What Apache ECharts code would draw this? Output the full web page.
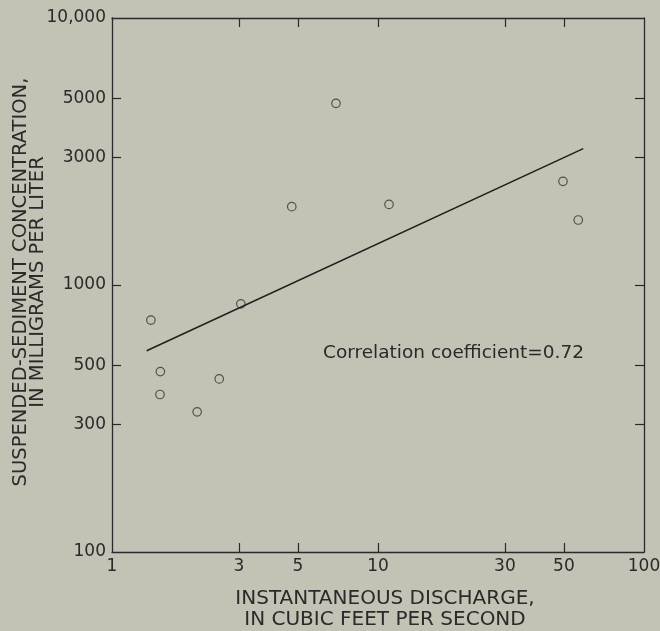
<!DOCTYPE html>
<html>
<head>
<meta charset="utf-8">
<script src="https://cdn.jsdelivr.net/npm/echarts@6/dist/echarts.min.js"></script>
<style>
html,body{margin:0;padding:0;background:#c4c1b5;}
#chart{width:660px;height:631px;}
</style>
</head>
<body>
<div id="chart"></div>
<script>
// Observations: instantaneous discharge (ft3/s) and suspended-sediment concentration (mg/L)
const discharge = [1.40, 1.52, 1.515, 2.09, 2.53, 3.05, 4.74, 6.95, 11.0, 49.6, 56.6];
const concentration = [739, 474, 389, 335, 445, 850, 1965, 4790, 2004, 2445, 1752];
// Regression line end points
const fitX = [1.35, 59.1];
const fitY = [567, 3243];
// Tick values
const xTicks = [1, 3, 5, 10, 30, 50, 100];
const yTicks = [100, 300, 500, 1000, 3000, 5000, 10000];
const xInnerTicks = [3, 5, 10, 30, 50];
const yInnerTicks = [300, 500, 1000, 3000, 5000];
const annotation = 'Correlation coefficient=0.72';

const ink = '#2a2a2a';
const fontFam = '"DejaVu Sans", "Liberation Sans", sans-serif';

function fmtY(v){ return v >= 10000 ? '10,000' : String(v); }

const baseX = {
  type: 'log', logBase: 10, min: 1, max: 100, gridIndex: 0,
  axisLine: {show: true, lineStyle: {color: ink, width: 1.3}},
  splitLine: {show: false}, minorTick: {show: false},
  axisTick: {show: true, inside: true, length: 9, lineStyle: {color: ink, width: 1.2}, customValues: xInnerTicks},
};
const baseY = {
  type: 'log', logBase: 10, min: 100, max: 10000, gridIndex: 0,
  axisLine: {show: true, lineStyle: {color: ink, width: 1.3}},
  splitLine: {show: false}, minorTick: {show: false},
  axisTick: {show: true, inside: true, length: 9, lineStyle: {color: ink, width: 1.2}, customValues: yInnerTicks},
};

const option = {
  backgroundColor: '#c4c1b5',
  animation: false,
  grid: {left: 112, right: 16, top: 18, bottom: 79, containLabel: false, outerBoundsMode: 'none'},
  xAxis: [
    Object.assign({}, baseX, {
      position: 'bottom',
      axisLabel: {show: true, customValues: xTicks, color: ink, fontSize: 17, fontFamily: fontFam, margin: 6},
      name: 'INSTANTANEOUS DISCHARGE,\nIN CUBIC FEET PER SECOND',
      nameLocation: 'middle', nameGap: 36, nameMoveOverlap: false,
      nameTextStyle: {color: ink, fontSize: 20, fontFamily: fontFam, lineHeight: 21, padding: [0,0,0,14]}
    }),
    Object.assign({}, baseX, {position: 'top', axisLabel: {show: false}})
  ],
  yAxis: [
    Object.assign({}, baseY, {
      position: 'left',
      axisLabel: {show: true, customValues: yTicks, formatter: fmtY, color: ink, fontSize: 17, fontFamily: fontFam, margin: 6},
      name: 'SUSPENDED-SEDIMENT CONCENTRATION,\nIN MILLIGRAMS PER LITER',
      nameLocation: 'middle', nameGap: 66, nameRotate: 90, nameMoveOverlap: false,
      nameTextStyle: {color: ink, fontSize: 19.5, fontFamily: fontFam, lineHeight: 17, padding: [0,0,0,6]}
    }),
    Object.assign({}, baseY, {position: 'right', axisLabel: {show: false}})
  ],
  series: [
    {
      type: 'scatter', xAxisIndex: 0, yAxisIndex: 0,
      data: discharge.map((d, i) => [d, concentration[i]]),
      symbol: 'circle', symbolSize: 8.5,
      itemStyle: {color: 'rgba(0,0,0,0)', borderColor: '#333', borderWidth: 1.2}
    },
    {
      type: 'line', xAxisIndex: 0, yAxisIndex: 0,
      data: fitX.map((d, i) => [d, fitY[i]]),
      symbol: 'none',
      lineStyle: {color: '#1e1e1e', width: 1.5}
    }
  ],
  graphic: [{
    type: 'text', left: 323, top: 344,
    style: {text: annotation, fill: ink, fontSize: 18.5, fontFamily: fontFam}
  }]
};

const chart = echarts.init(document.getElementById('chart'), null, {renderer: 'canvas'});
chart.setOption(option);
</script>
</body>
</html>
